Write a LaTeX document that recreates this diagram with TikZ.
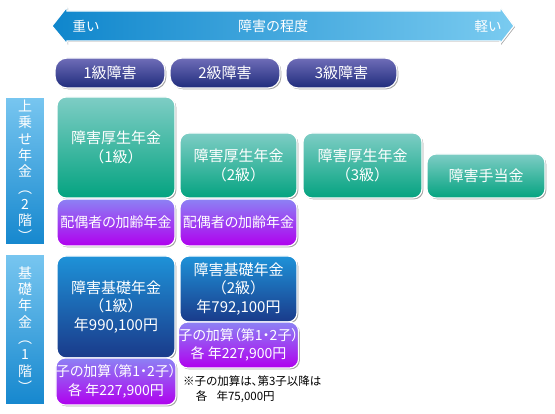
\documentclass[tikz,border=0pt]{standalone}
\usepackage{fontspec}
\setmainfont{Noto Sans CJK JP}
\newfontfamily\paltfont[RawFeature=+palt]{Noto Sans CJK JP}
\usetikzlibrary{shadows}
\definecolor{arrL}{HTML}{0F86CC}
\definecolor{arrR}{HTML}{7ACBF0}
\definecolor{navyT}{HTML}{6F6DB8}
\definecolor{navyB}{HTML}{1F2C7C}
\definecolor{lblT}{HTML}{78C6F0}
\definecolor{lblB}{HTML}{1587CE}
\definecolor{grT}{HTML}{7ECDC5}
\definecolor{grB}{HTML}{04A380}
\definecolor{puT}{HTML}{8C82F4}
\definecolor{puB}{HTML}{B000EE}
\definecolor{buT}{HTML}{1E92D8}
\definecolor{buB}{HTML}{1A3A8A}
\tikzset{
  shd/.style={drop shadow={shadow xshift=1.3pt, shadow yshift=-1.3pt, opacity=0.35, fill=black}},
  box/.style={draw=white, line width=1.2pt, rounded corners=9pt, shd, text=white,
    align=center, inner sep=0pt, font=\fontsize{15}{18.5}\selectfont},
  grbox/.style={box, top color=grT, bottom color=grB},
  pubox/.style={box, top color=puT, bottom color=puB, font=\paltfont\fontsize{14}{18.5}\selectfont},
  bubox/.style={box, top color=buT, bottom color=buB},
  grade/.style={box, rounded corners=12pt, top color=navyT, bottom color=navyB,
    minimum height=30pt, font=\fontsize{15}{17}\selectfont},
  lbl/.style={draw=white, line width=1.2pt, shd, top color=lblT, bottom color=lblB,
    text=white, align=center, inner sep=0pt, minimum width=40pt,
    font=\fontsize{14}{16.3}\selectfont},
  arrowshape/.style={draw=white, line width=1.2pt, left color=arrL, right color=arrR,
    drop shadow={shadow xshift=1pt, shadow yshift=-1pt, opacity=0.35, fill=black}},
  atext/.style={text=white, inner sep=0pt, font=\fontsize{13.5}{16}\selectfont},
  note/.style={align=left, inner sep=0pt, anchor=north west, font=\paltfont\fontsize{11.5}{15}\selectfont}
}
\begin{document}
\begin{tikzpicture}[x=1pt,y=-1pt]
\useasboundingbox[fill=white] (0,0) rectangle (555,414);
% arrow
\draw[arrowshape] (52,26) -- (67,7) -- (67,11) -- (500,11) -- (500,7) -- (514,26)
  -- (500,44) -- (500,41) -- (67,41) -- (67,44) -- cycle;
\node[atext] (heavy) at (86,26) {重い};
\node[atext, font=\fontsize{14}{16}\selectfont] (deg) at (273,26) {障害の程度};
\node[atext] (light) at (488,26) {軽い};
% grades
\node[grade, minimum width=110pt] (gr1) at (110,73) {1級障害};
\node[grade, minimum width=110pt] (gr2) at (225,73) {2級障害};
\node[grade, minimum width=111pt] (gr3) at (341.5,73) {3級障害};
% left labels
\node[lbl, minimum height=148pt] (L1) at (25,171) {上\\乗\\せ\\年\\金\\︵\\2\\階\\︶};
\node[lbl, minimum height=151pt] (L2) at (25,329.5) {基\\礎\\年\\金\\︵\\1\\階\\︶};
% upper tier
\node[grbox, minimum width=118pt, minimum height=101pt] (g1) at (116,147.5) {障害厚生年金\\（1級）};
\node[grbox, minimum width=117pt, minimum height=65pt] (g2) at (238.5,165.5) {障害厚生年金\\（2級）};
\node[grbox, minimum width=119pt, minimum height=65pt] (g3) at (362.5,165.5) {障害厚生年金\\（3級）};
\node[grbox, minimum width=118pt, minimum height=44pt] (g4) at (486,176) {障害手当金};
\node[pubox, minimum width=118pt, minimum height=47pt] (s1) at (116,222.5) {配偶者の加齢年金};
\node[pubox, minimum width=117pt, minimum height=47pt] (s2) at (238.5,222.5) {配偶者の加齢年金};
% base tier
\node[bubox, minimum width=118pt, minimum height=102pt] (b1) at (116,307) {障害基礎年金\\（1級）\\年990,100円};
\node[bubox, minimum width=117pt, minimum height=66pt] (b2) at (238.5,289) {障害基礎年金\\（2級）\\年792,100円};
\node[pubox, minimum width=117pt, minimum height=46pt] (c2) at (238.5,345) {子の加算（第1・2子）\\各 年227,900円};
\node[pubox, minimum width=118pt, minimum height=47pt] (c1) at (116,381.5) {子の加算（第1・2子）\\各 年227,900円};
% note
\node[note] (nt) at (183,376) {※子の加算は、第3子以降は\\\hspace{1.1em}各\hspace{0.8em}年75,000円};
\end{tikzpicture}
\end{document}
